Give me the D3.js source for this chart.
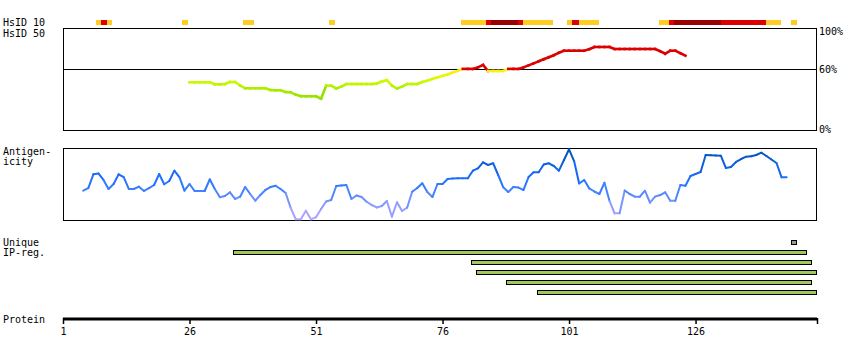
<!DOCTYPE html>
<html><head><meta charset="utf-8">
<script src="https://cdn.jsdelivr.net/npm/d3@7"></script>
<style>
body{margin:0;background:#fff}
svg{display:block}
text{font-family:"DejaVu Sans Mono",monospace;font-size:10px;fill:#000}
</style>
</head><body>
<svg id="c" width="850" height="360"></svg>
<script>
// ---------- data ----------
const proteinDomain = [1, 150];
const axisTicks = [1, 26, 51, 76, 101, 126, 150];
const axisTickLabels = ["1", "26", "51", "76", "101", "126", ""];

// HsID 10 identity segments (residue start, end, level 1=yellow 2=red 3=dark red)
const hsid10Start = [7.5, 8.5, 9.7, 24.5, 36.6, 53.6, 79.6, 84.6, 85.6, 90.9, 91.9, 100.6, 101.6, 103.0, 118.8, 120.8, 121.8, 131.0, 139.9, 144.9];
const hsid10End   = [8.5, 9.7, 10.7, 25.7, 38.7, 54.7, 84.6, 85.6, 90.9, 91.9, 97.8, 101.6, 103.0, 106.9, 120.8, 121.8, 131.0, 139.9, 142.9, 146.1];
const hsid10Level = [1, 2, 1, 1, 1, 1, 1, 2, 3, 2, 1, 1, 2, 1, 1, 2, 3, 2, 1, 1];

// HsID 50 identity (%) per residue, starting at residue 26
const hsid50First = 26;
const hsid50Values = [
  47.2,47.2,47.2,47.2,47.2,
  45.2,45.2,45.5,47.5,47.5,
  44,41.3,41.3,41.3,41.3,41.3,39.5,39.3,39.3,37.5,
  37.3,35,33.5,33.4,33.4,33.4,31,43.9,43.9,41,
  43,45.5,45.5,45.5,45.5,45.5,45.5,46,48,49.5,
  44,41,43,45.5,45.5,45.5,47.5,48.8,50.5,52,
  53.5,55,57,58.5,60.5,60.5,60.5,62,64.4,58.4,
  58.4,58.4,58.4,60.5,60.5,60.5,62,64,66,68,
  70,72,74,76.5,78.5,78.5,78.5,78.5,78.5,80,
  82.2,82.2,82.2,82.2,80.2,80.2,80.2,80.2,80.2,80.2,
  80.2,80.2,80.2,78,75.6,78.5,78.5,76,73.6
];
const hsidAxisLabels = ["100%", "60%", "0%"];
const hsidAxisValues = [100, 60, 0];

// Antigenicity (relative score 0-100) per residue, starting at residue 5
const antigenFirst = 5;
const antigenValues = [
  40.7,44.4,63.5,64.6,55.6,43.1,50,63.5,59.7,43.1,
  43.1,46.3,40.3,44.4,48.6,63.9,49.6,54.2,68.5,59.7,
  40.7,50,40.3,40.3,40.3,56.5,43.1,31.5,33.3,38.5,
  29.2,32.4,45.8,36.1,26.8,34.7,41.7,45.8,47.6,43.1,
  37.5,16.7,1,1,12.9,1,3.8,15.3,25.7,27.8,
  47.2,47.9,48.6,29.2,34,31.9,25.4,20.8,17.4,19.4,
  26.4,4.6,24.6,12.5,17.1,39.3,44.4,51,38.9,31.9,
  50,50,56.9,57.6,57.9,57.9,57.9,68.5,71.8,80.1,
  76.4,78.8,62.5,45.4,38.9,45.8,45.1,41.7,59.7,66.3,
  66.3,77.1,78.8,75,68.5,83.3,98.2,81.9,50.7,55.6,
  43.8,39.6,36.1,51.8,26.4,9.3,9.3,41,36.1,32.4,
  32.4,40.7,24,32.4,34.7,38.5,26.8,26.8,48.6,47.6,
  61.1,63.9,66.7,90.3,89.9,89.6,89.3,72.2,73.6,80.6,
  84.7,87.9,88.6,90.3,93.5,88.9,84,79.2,59.3,59.3
];

// Unique IP regions
const uniqueStart = [144.9];
const uniqueEnd = [146.0];
const ipregStart = [34.65, 81.6, 82.6, 88.5, 94.7];
const ipregEnd   = [148.0, 149.0, 150.0, 149.0, 150.0];

// ---------- drawing ----------
const svg = d3.select("#c");
const x = d3.scaleLinear().domain(proteinDomain).range([63, 817]);

// labels
const labels = [["HsID 10",26],["HsID 50",37],["Antigen-",155],["icity",165],["Unique",246],["IP-reg.",256],["Protein",323]];
svg.selectAll("text.lab").data(labels).join("text").attr("class","lab")
  .attr("x",3).attr("y",d=>d[1]).text(d=>d[0]);

// HsID 10 bars
const levelColor = d3.scaleOrdinal().domain([1,2,3]).range(["#ffcc22","#dd0000","#990000"]);
svg.append("g").attr("shape-rendering","crispEdges").selectAll("rect")
  .data(hsid10Start.map((s,i)=>({s, e:hsid10End[i], l:hsid10Level[i]})))
  .join("rect")
  .attr("x",d=>x(d.s)).attr("width",d=>x(d.e)-x(d.s))
  .attr("y",19.5).attr("height",5.5)
  .attr("fill",d=>levelColor(d.l));

// HsID 50 panel
const yH = d3.scaleLinear().domain([0,100]).range([130,29]);
svg.append("rect").attr("x",63.5).attr("y",28.5).attr("width",753).attr("height",101.5)
  .attr("fill","none").attr("stroke","#000").attr("shape-rendering","crispEdges");
svg.append("line").attr("x1",63).attr("x2",817).attr("y1",Math.round(yH(60))+0.5).attr("y2",Math.round(yH(60))+0.5)
  .attr("stroke","#000").attr("shape-rendering","crispEdges");
svg.selectAll("text.hax").data(hsidAxisValues).join("text").attr("class","hax")
  .attr("x",819).attr("y",(d,i)=>[35,73,133][i]).text((d,i)=>hsidAxisLabels[i]);

const hsColor = v => v >= 60 ? "#dd0000" : d3.scaleLinear().domain([30,40,47,53,60]).range(["#8fe000","#a8ec00","#c8f800","#e6f800","#ffec22"]).clamp(true)(v);
const hsPts = hsid50Values.map((v,i)=>({r:hsid50First+i, v}));
svg.append("g").selectAll("line").data(hsPts.slice(0,-1)).join("line")
  .attr("x1",d=>x(d.r)).attr("y1",d=>yH(d.v))
  .attr("x2",(d,i)=>x(hsPts[i+1].r)).attr("y2",(d,i)=>yH(hsPts[i+1].v))
  .attr("stroke",d=>hsColor(d.v)).attr("stroke-width",2.6).attr("stroke-linecap","square");

// Antigenicity panel
const yA = d3.scaleLinear().domain([0,100]).range([220,148]);
svg.append("rect").attr("x",63.5).attr("y",148.5).attr("width",753).attr("height",71.5)
  .attr("fill","none").attr("stroke","#000").attr("shape-rendering","crispEdges");
const agColor = d3.scaleLinear().domain([0,20,40,60,100]).range(["#b9a9ff","#8c9cff","#4383ff","#1a6cff","#0050b0"]);
const agPts = antigenValues.map((v,i)=>({r:antigenFirst+i, v}));
svg.append("g").selectAll("line").data(agPts.slice(0,-1)).join("line")
  .attr("x1",d=>x(d.r)).attr("y1",d=>yA(d.v))
  .attr("x2",(d,i)=>x(agPts[i+1].r)).attr("y2",(d,i)=>yA(agPts[i+1].v))
  .attr("stroke",(d,i)=>agColor((d.v+agPts[i+1].v)/2)).attr("stroke-width",2).attr("stroke-linecap","round");

// Unique IP regions
const gi = svg.append("g").attr("shape-rendering","crispEdges");
gi.selectAll("rect.u").data(uniqueStart.map((s,i)=>({s,e:uniqueEnd[i]}))).join("rect").attr("class","u")
  .attr("x",d=>Math.round(x(d.s))+0.5).attr("width",d=>x(d.e)-x(d.s)-1)
  .attr("y",240.5).attr("height",4).attr("fill","#999").attr("stroke","#000");
gi.selectAll("rect.b").data(ipregStart.map((s,i)=>({s,e:ipregEnd[i],i}))).join("rect").attr("class","b")
  .attr("x",d=>Math.round(x(d.s))+0.5).attr("width",d=>Math.round(x(d.e))-Math.round(x(d.s))-1)
  .attr("y",d=>250.5+d.i*10).attr("height",4).attr("fill","#9fc95c").attr("stroke","#000");

// Protein axis
const ax = d3.axisBottom(x).tickValues(axisTicks).tickSize(5).tickPadding(5)
  .tickFormat((d,i)=>axisTickLabels[i]);
const gAx = svg.append("g").attr("transform","translate(0,318)").call(ax);
gAx.select(".domain").attr("stroke-width",3).attr("d","M63,1H817");
gAx.selectAll(".tick line").attr("stroke-width",1.5).attr("y1",0).attr("y2",6);
gAx.selectAll(".tick text").attr("font-family","DejaVu Sans Mono").attr("font-size",10).attr("dy",null).attr("y",17);
</script>
</body></html>
